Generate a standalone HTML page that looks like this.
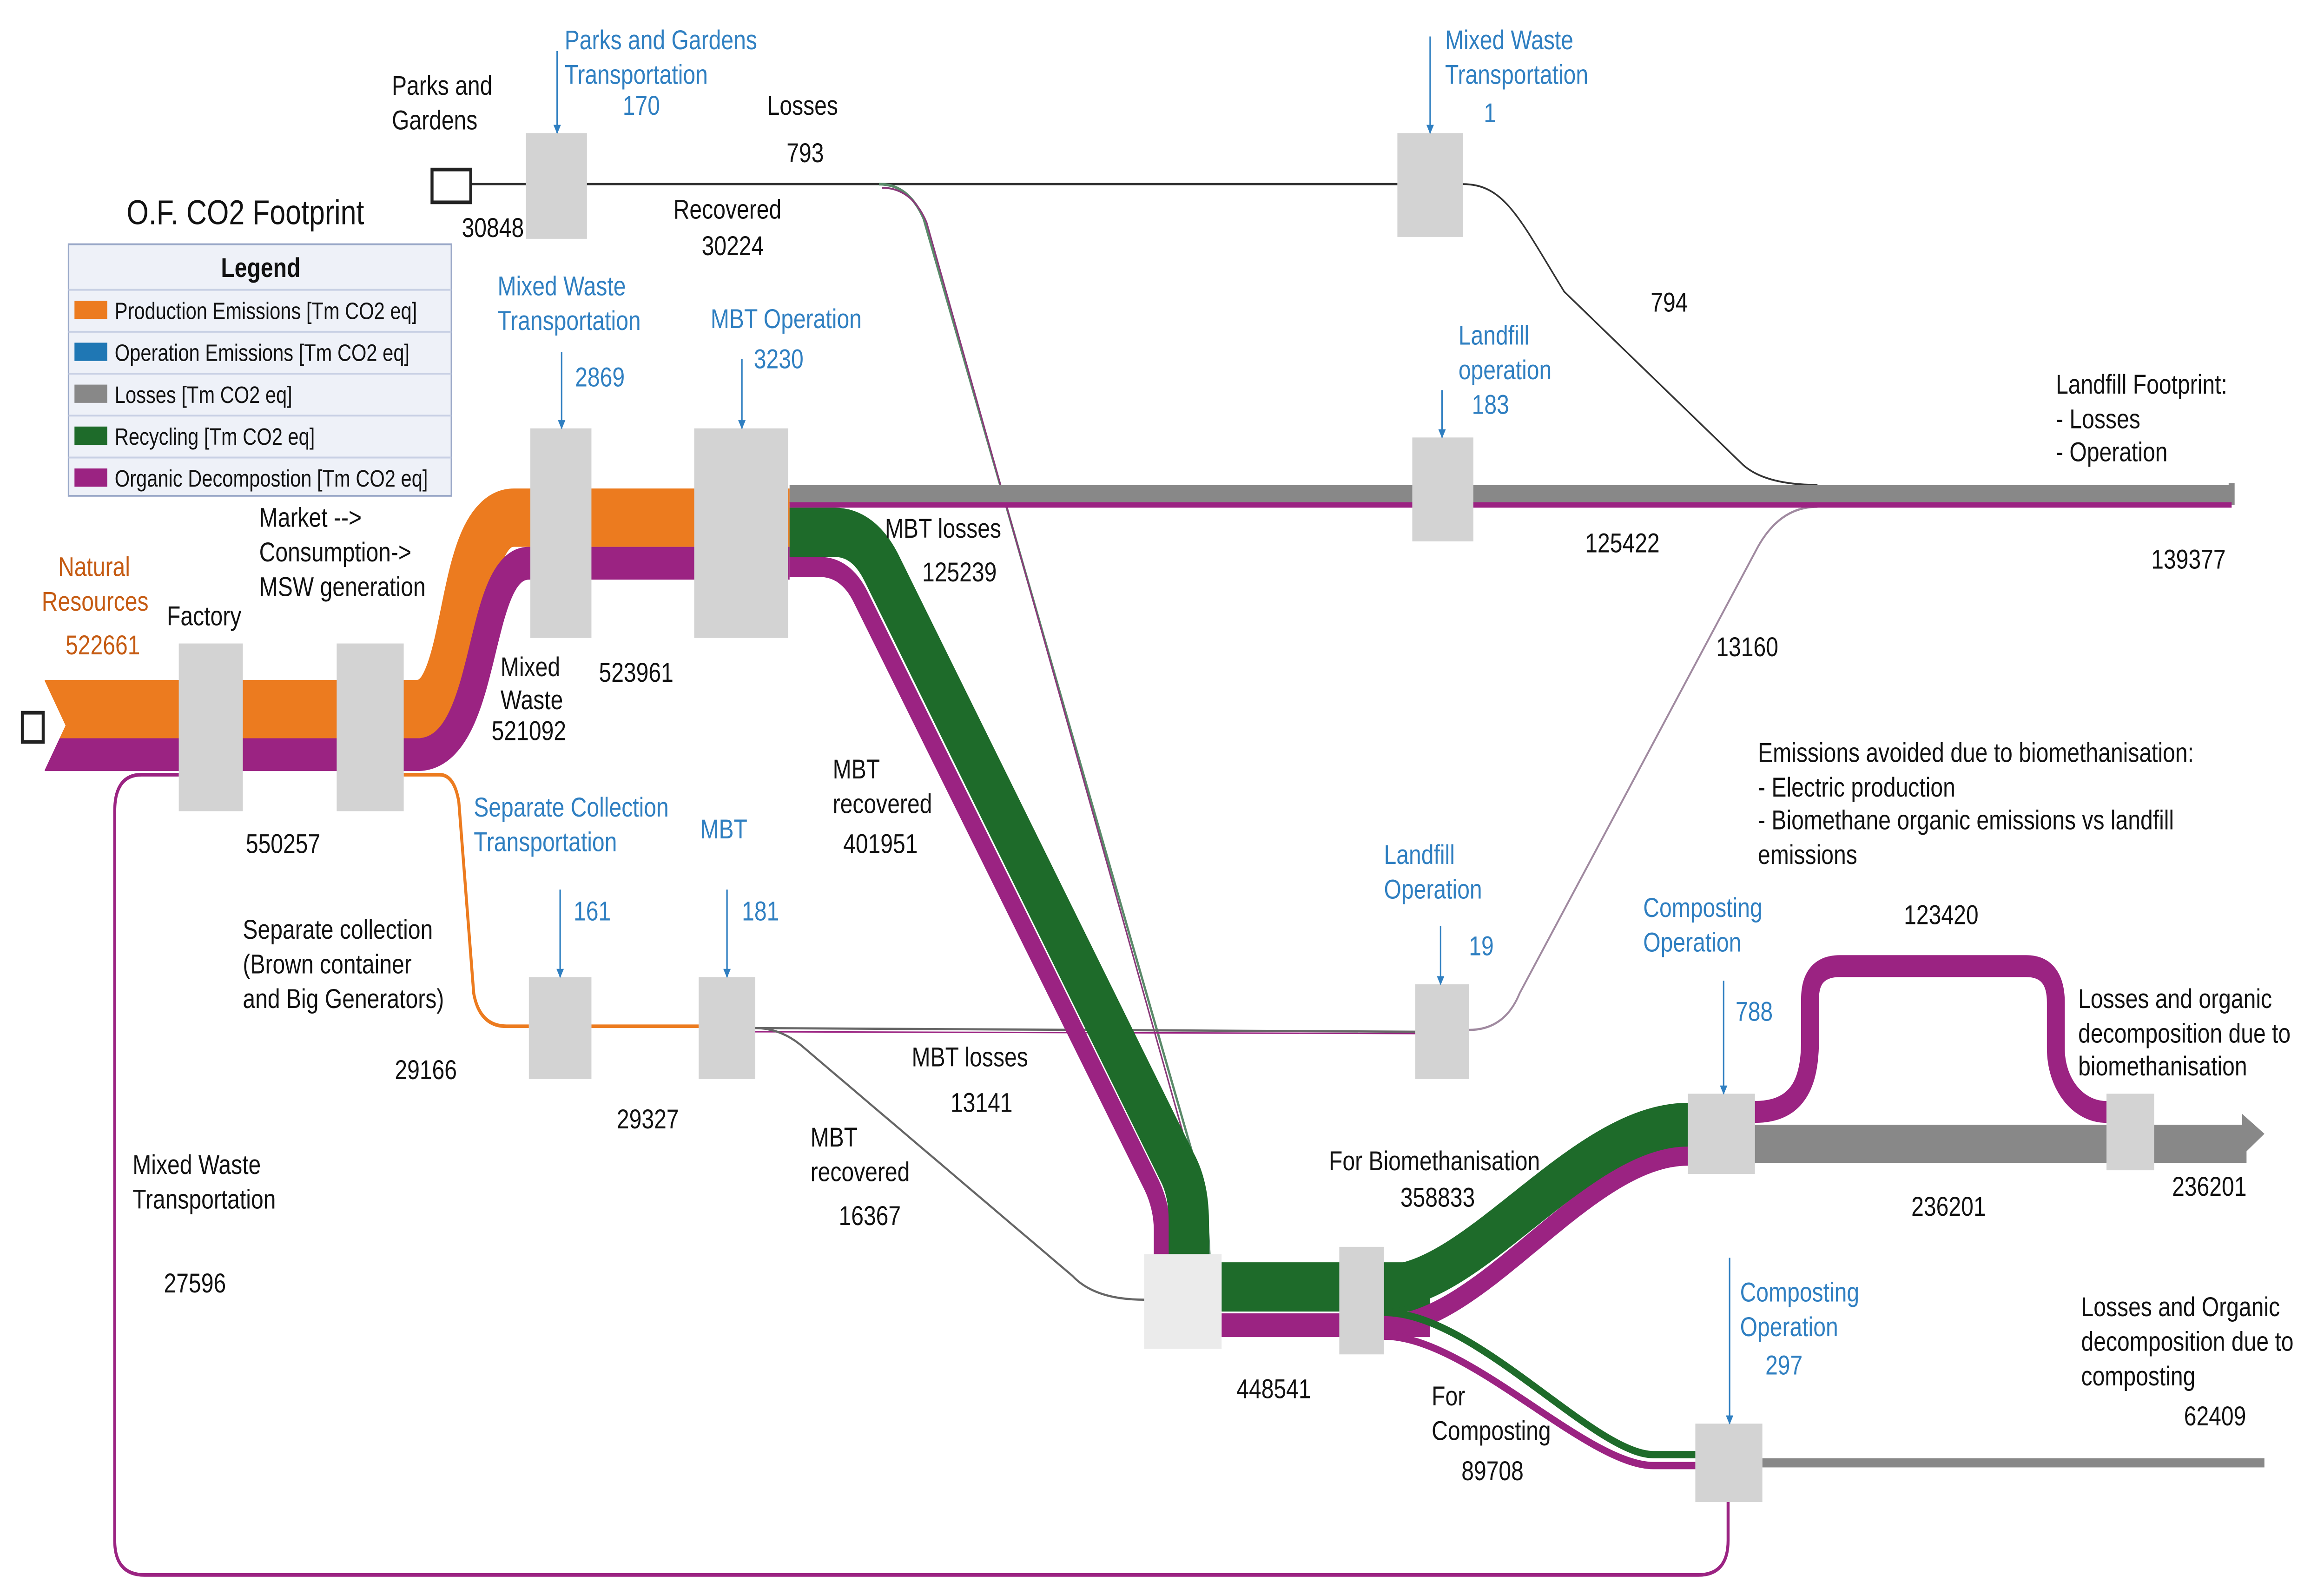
<!DOCTYPE html>
<html><head><meta charset="utf-8"><style>
html,body{margin:0;padding:0;background:#fff;width:100%;height:100%;overflow:hidden}
svg{display:block;width:100vw;height:100vh}
text{font-family:"Liberation Sans",Arial,sans-serif;font-size:15px;fill:#111}
.b{fill:#2f7fc1}
.o{fill:#c55a11}
</style></head><body>
<svg viewBox="0 0 1560 875" preserveAspectRatio="none" xmlns="http://www.w3.org/2000/svg">
<defs>
<marker id="ar" viewBox="0 0 10 10" refX="9" refY="5" markerWidth="5" markerHeight="5" orient="auto"><path d="M0,0L10,5L0,10z" fill="#2f7fc1"/></marker>
</defs>
<rect width="1560" height="875" fill="#fff"/>

<path d="M316,101 L938,101" stroke="#333" stroke-width="1.2" fill="none"/>
<path d="M982,101 C1010,101 1020,120 1050,160 L1170,255 Q1185,266 1220,266" stroke="#333" stroke-width="1" fill="none"/>
<path d="M590,101 Q610,101 620,120 L810,660 L812,690" stroke="#5a8a6a" stroke-width="1.5" fill="none"/>
<path d="M592,103 Q612,103 622,122 L808,662 L809,690" stroke="#8a3a7a" stroke-width="1" fill="none"/>
<path d="M120,425 L95,425 Q77,425 77,445 L77,845 Q77,864 97,864 L1140,864 Q1160,864 1160,845 L1160,824" stroke="#9b2382" stroke-width="2" fill="none"/>
<path d="M271,425 L295,425 Q305,425 308,440 L318,545 Q322,563 340,563 L355,563" stroke="#ec7b1f" stroke-width="2" fill="none"/>
<path d="M397,563 L469,563" stroke="#ec7b1f" stroke-width="2" fill="none"/>
<path d="M507,564 L950,566" stroke="#666" stroke-width="1.2" fill="none"/>
<path d="M507,566 L950,567" stroke="#9b2382" stroke-width="0.8" fill="none"/>
<path d="M986,565 Q1010,565 1020,545 L1180,300 Q1195,278 1220,278" stroke="#a08aa0" stroke-width="1.2" fill="none"/>
<path d="M507,564 Q525,564 540,575 L720,700 Q735,713 768,713" stroke="#666" stroke-width="1.2" fill="none"/>

<path d="M30,389 L280,389 C318,389 305,284 345,284 L530,284" stroke="#ec7b1f" stroke-width="32" fill="none"/>
<path d="M30,414 L280,414 C330,414 318,309 355,309 L530,309" stroke="#9b2382" stroke-width="18" fill="none"/>
<polygon points="28,370 44,398 28,426" fill="#fff"/>
<path d="M530,271 L1498,271" stroke="#888" stroke-width="10" fill="none"/>
<polygon points="1496,265 1500,265 1500,277 1496,277" fill="#888"/>
<path d="M530,277 L1498,277" stroke="#9b2382" stroke-width="3" fill="none"/>
<path d="M530,311 L550,311 Q568,311 578,328 L773,650 Q780,662 780,675 L780,690" stroke="#9b2382" stroke-width="11" fill="none"/>
<path d="M530,292 L560,292 Q580,292 592,312 L790,640 Q798,652 798,670 L798,690" stroke="#1e6b2a" stroke-width="27" fill="none"/>
<path d="M820,706 L960,706" stroke="#1e6b2a" stroke-width="27" fill="none"/>
<path d="M820,727 L960,727" stroke="#9b2382" stroke-width="13" fill="none"/>
<path d="M929,727 C995,727 1065,634 1133,634" stroke="#9b2382" stroke-width="11" fill="none"/>
<path d="M929,706 C990,706 1060,617 1133,617" stroke="#1e6b2a" stroke-width="24" fill="none"/>
<path d="M929,733 C985,733 1065,804 1110,804 L1138,804" stroke="#9b2382" stroke-width="4" fill="none"/>
<path d="M929,720 C990,720 1070,798 1110,798 L1138,798" stroke="#1e6b2a" stroke-width="4" fill="none"/>
<path d="M1178,610 C1210,610 1215,590 1215,570 L1215,548 Q1215,530 1235,530 L1360,530 Q1380,530 1380,550 L1380,575 C1380,595 1395,610 1414,610" stroke="#9b2382" stroke-width="12" fill="none"/>
<rect x="1178" y="617" width="330" height="21" fill="#888"/>
<polygon points="1505,611 1520,622 1505,634" fill="#888"/>
<rect x="1183" y="800" width="337" height="5" fill="#888"/>

<g fill="#d3d3d3">
<rect x="120" y="353" width="43" height="92"/>
<rect x="226" y="353" width="45" height="92"/>
<rect x="356" y="235" width="41" height="115"/>
<rect x="466" y="235" width="63" height="115"/>
<rect x="353" y="73" width="41" height="58"/>
<rect x="938" y="73" width="44" height="57"/>
<rect x="948" y="240" width="41" height="57"/>
<rect x="355" y="536" width="42" height="56"/>
<rect x="469" y="536" width="38" height="56"/>
<rect x="950" y="540" width="36" height="52"/>
<rect x="899" y="684" width="30" height="59"/>
<rect x="1133" y="600" width="45" height="44"/>
<rect x="1414" y="600" width="32" height="42"/>
<rect x="1138" y="781" width="45" height="43"/>
</g>
<rect x="768" y="688" width="52" height="52" fill="#ebebeb"/>
<rect x="290" y="93" width="26" height="18" fill="#fff" stroke="#222" stroke-width="2"/>
<rect x="15" y="391" width="14" height="16" fill="#fff" stroke="#222" stroke-width="2"/>

<g stroke="#2f7fc1" stroke-width="1" marker-end="url(#ar)">
<line x1="374" y1="28" x2="374" y2="73"/>
<line x1="960" y1="20" x2="960" y2="73"/>
<line x1="377" y1="193" x2="377" y2="235"/>
<line x1="498" y1="197" x2="498" y2="235"/>
<line x1="968" y1="214" x2="968" y2="240"/>
<line x1="376" y1="488" x2="376" y2="536"/>
<line x1="488" y1="488" x2="488" y2="536"/>
<line x1="967" y1="508" x2="967" y2="540"/>
<line x1="1157" y1="538" x2="1157" y2="600"/>
<line x1="1161" y1="690" x2="1161" y2="781"/>
</g>

<text x="85" y="123" style="font-size:19px">O.F. CO2 Footprint</text>
<rect x="46" y="134" width="257" height="138" fill="#eef1f8" stroke="#9aa8c8" stroke-width="1"/>
<text x="175" y="152" text-anchor="middle" style="font-weight:bold;font-size:15px">Legend</text>
<g stroke="#c8d0e4" stroke-width="1"><line x1="46" y1="159" x2="303" y2="159"/><line x1="46" y1="182" x2="303" y2="182"/><line x1="46" y1="205" x2="303" y2="205"/><line x1="46" y1="228" x2="303" y2="228"/><line x1="46" y1="251" x2="303" y2="251"/></g>
<rect x="50" y="165" width="22" height="10" fill="#ec7b1f"/>
<rect x="50" y="188" width="22" height="10" fill="#1f77b4"/>
<rect x="50" y="211" width="22" height="10" fill="#888"/>
<rect x="50" y="234" width="22" height="10" fill="#1e6b2a"/>
<rect x="50" y="257" width="22" height="10" fill="#9b2382"/>
<text x="77" y="175" style="font-size:13px">Production Emissions [Tm CO2 eq]</text>
<text x="77" y="198" style="font-size:13px">Operation Emissions [Tm CO2 eq]</text>
<text x="77" y="221" style="font-size:13px">Losses [Tm CO2 eq]</text>
<text x="77" y="244" style="font-size:13px">Recycling [Tm CO2 eq]</text>
<text x="77" y="267" style="font-size:13px">Organic Decompostion [Tm CO2 eq]</text>

<text x="263" y="52">Parks and</text><text x="263" y="71">Gardens</text>
<text class="b" x="379" y="27">Parks and Gardens</text><text class="b" x="379" y="46">Transportation</text><text class="b" x="418" y="63">170</text>
<text x="515" y="63">Losses</text><text x="528" y="89">793</text>
<text x="310" y="130">30848</text>
<text x="452" y="120">Recovered</text><text x="471" y="140">30224</text>
<text class="b" x="970" y="27">Mixed Waste</text><text class="b" x="970" y="46">Transportation</text><text class="b" x="996" y="67">1</text>
<text x="1108" y="171">794</text>
<text class="b" x="334" y="162">Mixed Waste</text><text class="b" x="334" y="181">Transportation</text><text class="b" x="386" y="212">2869</text>
<text class="b" x="477" y="180">MBT Operation</text><text class="b" x="506" y="202">3230</text>
<text class="b" x="979" y="189">Landfill</text><text class="b" x="979" y="208">operation</text><text class="b" x="988" y="227">183</text>
<text x="1380" y="216">Landfill Footprint:</text><text x="1380" y="235">- Losses</text><text x="1380" y="253">- Operation</text>
<text x="1064" y="303">125422</text><text x="1444" y="312">139377</text>
<text x="594" y="295">MBT losses</text><text x="619" y="319">125239</text>
<text class="o" x="39" y="316">Natural</text><text class="o" x="28" y="335">Resources</text><text class="o" x="44" y="359">522661</text>
<text x="174" y="289">Market --&gt;</text><text x="174" y="308">Consumption-&gt;</text><text x="174" y="327">MSW generation</text>
<text x="112" y="343">Factory</text>
<text x="336" y="371">Mixed</text><text x="336" y="389">Waste</text><text x="330" y="406">521092</text>
<text x="402" y="374">523961</text>
<text x="1152" y="360">13160</text>
<text x="1180" y="418">Emissions avoided due to biomethanisation:</text><text x="1180" y="437">- Electric production</text><text x="1180" y="455">- Biomethane organic emissions vs landfill</text><text x="1180" y="474">emissions</text>
<text x="559" y="427">MBT</text><text x="559" y="446">recovered</text><text x="566" y="468">401951</text>
<text x="165" y="468">550257</text>
<text class="b" x="318" y="448">Separate Collection</text><text class="b" x="318" y="467">Transportation</text><text class="b" x="470" y="460">MBT</text>
<text class="b" x="385" y="505">161</text><text class="b" x="498" y="505">181</text>
<text class="b" x="929" y="474">Landfill</text><text class="b" x="929" y="493">Operation</text><text class="b" x="986" y="524">19</text>
<text class="b" x="1103" y="503">Composting</text><text class="b" x="1103" y="522">Operation</text><text class="b" x="1165" y="560">788</text>
<text x="1278" y="507">123420</text>
<text x="163" y="515">Separate collection</text><text x="163" y="534">(Brown container</text><text x="163" y="553">and Big Generators)</text>
<text x="1395" y="553">Losses and organic</text><text x="1395" y="572">decomposition due to</text><text x="1395" y="590">biomethanisation</text>
<text x="265" y="592">29166</text><text x="414" y="619">29327</text>
<text x="612" y="585">MBT losses</text><text x="638" y="610">13141</text>
<text x="544" y="629">MBT</text><text x="544" y="648">recovered</text><text x="563" y="672">16367</text>
<text x="892" y="642">For Biomethanisation</text><text x="940" y="662">358833</text>
<text x="89" y="644">Mixed Waste</text><text x="89" y="663">Transportation</text><text x="110" y="709">27596</text>
<text x="1283" y="667">236201</text><text x="1458" y="656">236201</text>
<text class="b" x="1168" y="714">Composting</text><text class="b" x="1168" y="733">Operation</text><text class="b" x="1185" y="754">297</text>
<text x="1397" y="722">Losses and Organic</text><text x="1397" y="741">decomposition due to</text><text x="1397" y="760">composting</text><text x="1466" y="782">62409</text>
<text x="830" y="767">448541</text>
<text x="961" y="771">For</text><text x="961" y="790">Composting</text><text x="981" y="812">89708</text>
</svg>
</body></html>
